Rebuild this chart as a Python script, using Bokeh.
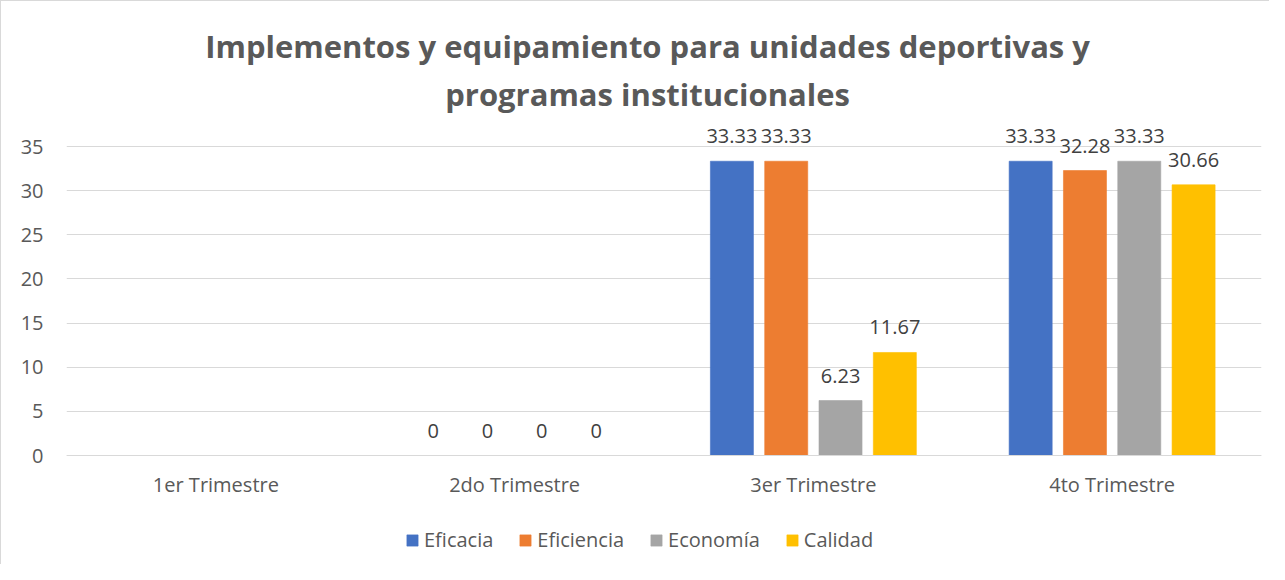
from bokeh.plotting import figure
from bokeh.models import (ColumnDataSource, FactorRange, Range1d, Label, Legend,
                          LegendItem, LabelSet, FixedTicker)
from bokeh.transform import dodge
from bokeh.core.properties import value
from bokeh.embed import file_html
from bokeh.resources import INLINE
import math

categories = ["1er Trimestre", "2do Trimestre", "3er Trimestre", "4to Trimestre"]
series = ["Eficacia", "Eficiencia", "Economía", "Calidad"]
eficacia = [float("nan"), 0, 33.33, 33.33]
eficiencia = [float("nan"), 0, 33.33, 32.28]
economia = [float("nan"), 0, 6.23, 33.33]
calidad = [float("nan"), 0, 11.67, 30.66]
y_ticks = [0, 5, 10, 15, 20, 25, 30, 35]
title_lines = ["Implementos y equipamiento para unidades deportivas y",
               "programas institucionales"]

colors = ["#4472C4", "#ED7D31", "#A5A5A5", "#FFC000"]
values = [eficacia, eficiencia, economia, calidad]
offsets = [-0.2727, -0.0909, 0.0909, 0.2727]
FONT = "Open Sans"
FS = "20px"

p = figure(width=1269, height=564, x_range=FactorRange(*categories, range_padding=0),
           y_range=Range1d(-12.346, 51.311), output_backend="svg", toolbar_location=None,
           min_border_left=65, min_border_right=9, min_border_top=1,
           min_border_bottom=1, title=None)
p.styles = {"border-top": "1px solid #D9D9D9", "border-left": "1px solid #D9D9D9"}
p.outline_line_color = None
p.xgrid.grid_line_color = None
p.ygrid.grid_line_color = "#D9D9D9"
p.ygrid.grid_line_width = 1
p.yaxis.ticker = FixedTicker(ticks=y_ticks)
p.yaxis.axis_line_color = None
p.yaxis.major_tick_line_color = None
p.yaxis.minor_tick_line_color = None
p.yaxis.major_tick_out = 0
p.yaxis.major_label_standoff = 23
p.xaxis.fixed_location = 0
p.xaxis.axis_line_color = "#D9D9D9"
p.xaxis.major_tick_line_color = None
p.xaxis.major_tick_out = 0
p.xaxis.major_label_standoff = 15
for ax in (p.xaxis, p.yaxis):
    ax.major_label_text_font = FONT
    ax.major_label_text_font_size = FS
    ax.major_label_text_color = "#595959"

items = []
for name, vals, col, off in zip(series, values, colors, offsets):
    src = ColumnDataSource(dict(
        cat=categories, val=vals,
        txt=["" if (isinstance(v, float) and math.isnan(v)) else f"{v:g}" for v in vals]))
    r = p.vbar(x=dodge("cat", off, range=p.x_range), top="val", width=0.144,
               source=src, fill_color=col, line_color=col, line_alpha=0.6)
    items.append(LegendItem(label=name, renderers=[r]))
    ls = LabelSet(x=dodge("cat", off, range=p.x_range), y="val", text="txt",
                  source=src, y_offset=25, text_align="center", text_baseline="middle",
                  text_font=value(FONT), text_font_size=value(FS), text_color="#404040")
    p.add_layout(ls)

legend = Legend(items=items, orientation="horizontal", location=(339, 11),
                glyph_width=14, glyph_height=14, label_standoff=5, spacing=25,
                padding=0, margin=0, border_line_color=None, background_fill_alpha=0,
                label_text_font=FONT, label_text_font_size=FS,
                label_text_color="#595959")
p.add_layout(legend, "center")

for line, yv in zip(title_lines, [46.4, 41.0]):
    p.add_layout(Label(x=1.945, y=yv, text=line, text_align="center",
                       text_baseline="middle", text_font=FONT, text_font_size="31px",
                       text_font_style="bold", text_color="#595959"))

open("out.html", "w").write(file_html(p, INLINE))
